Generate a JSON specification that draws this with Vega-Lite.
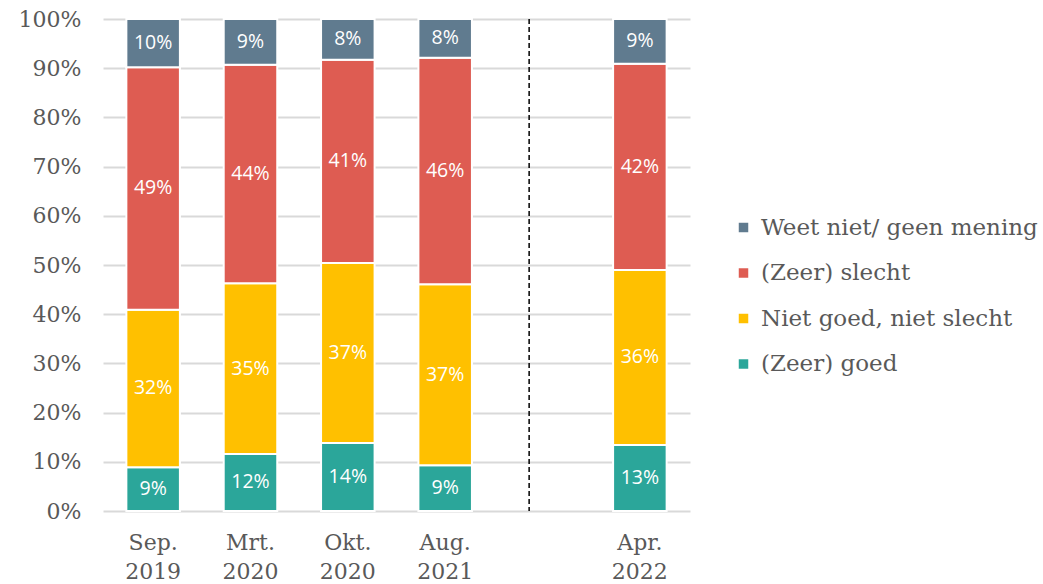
{
  "$schema": "https://vega.github.io/schema/vega-lite/v6.json",
  "width": 587,
  "height": 492,
  "autosize": {"type": "none"},
  "padding": {"left": 103, "top": 19, "right": 353, "bottom": 73},
  "background": "white",
  "config": {"view": {"stroke": null}},
  "datasets": {
    "main": [
      {"periode": "Sep. 2019", "antwoord": "(Zeer) goed", "rang": 1, "aandeel": 0.089},
      {"periode": "Sep. 2019", "antwoord": "Niet goed, niet slecht", "rang": 2, "aandeel": 0.320},
      {"periode": "Sep. 2019", "antwoord": "(Zeer) slecht", "rang": 3, "aandeel": 0.493},
      {"periode": "Sep. 2019", "antwoord": "Weet niet/ geen mening", "rang": 4, "aandeel": 0.098},
      {"periode": "Mrt. 2020", "antwoord": "(Zeer) goed", "rang": 1, "aandeel": 0.116},
      {"periode": "Mrt. 2020", "antwoord": "Niet goed, niet slecht", "rang": 2, "aandeel": 0.347},
      {"periode": "Mrt. 2020", "antwoord": "(Zeer) slecht", "rang": 3, "aandeel": 0.444},
      {"periode": "Mrt. 2020", "antwoord": "Weet niet/ geen mening", "rang": 4, "aandeel": 0.093},
      {"periode": "Okt. 2020", "antwoord": "(Zeer) goed", "rang": 1, "aandeel": 0.138},
      {"periode": "Okt. 2020", "antwoord": "Niet goed, niet slecht", "rang": 2, "aandeel": 0.366},
      {"periode": "Okt. 2020", "antwoord": "(Zeer) slecht", "rang": 3, "aandeel": 0.413},
      {"periode": "Okt. 2020", "antwoord": "Weet niet/ geen mening", "rang": 4, "aandeel": 0.083},
      {"periode": "Aug. 2021", "antwoord": "(Zeer) goed", "rang": 1, "aandeel": 0.093},
      {"periode": "Aug. 2021", "antwoord": "Niet goed, niet slecht", "rang": 2, "aandeel": 0.368},
      {"periode": "Aug. 2021", "antwoord": "(Zeer) slecht", "rang": 3, "aandeel": 0.460},
      {"periode": "Aug. 2021", "antwoord": "Weet niet/ geen mening", "rang": 4, "aandeel": 0.079},
      {"periode": "Apr. 2022", "antwoord": "(Zeer) goed", "rang": 1, "aandeel": 0.134},
      {"periode": "Apr. 2022", "antwoord": "Niet goed, niet slecht", "rang": 2, "aandeel": 0.356},
      {"periode": "Apr. 2022", "antwoord": "(Zeer) slecht", "rang": 3, "aandeel": 0.419},
      {"periode": "Apr. 2022", "antwoord": "Weet niet/ geen mening", "rang": 4, "aandeel": 0.091}
    ],
    "scheiding": [{"periode": "gap"}]
  },
  "layer": [
    {
      "data": {"name": "main"},
      "mark": {"type": "bar", "stroke": "white", "strokeWidth": 2},
      "encoding": {
        "x": {
          "field": "periode", "type": "nominal",
          "scale": {"domain": ["Sep. 2019", "Mrt. 2020", "Okt. 2020", "Aug. 2021", "gap", "Apr. 2022"], "paddingInner": 0.45, "paddingOuter": 0.24},
          "axis": {
            "title": null, "labelAngle": 0, "domain": false, "ticks": false, "grid": false,
            "labelExpr": "datum.value == 'gap' ? '' : split(datum.value, ' ')",
            "labelFont": "DejaVu Serif", "labelFontSize": 22, "labelColor": "#595959",
            "labelPadding": 21, "labelLineHeight": 29
          }
        },
        "y": {
          "field": "aandeel", "type": "quantitative", "stack": "zero",
          "scale": {"domain": [0, 1]},
          "axis": {
            "title": null, "values": [0, 0.1, 0.2, 0.3, 0.4, 0.5, 0.6, 0.7, 0.8, 0.9, 1],
            "format": ".0%", "domain": false, "ticks": false,
            "gridColor": "#d9d9d9", "gridWidth": 2,
            "labelFont": "DejaVu Serif", "labelFontSize": 22, "labelColor": "#595959",
            "labelPadding": 22
          }
        },
        "order": {"field": "rang", "type": "quantitative", "sort": "ascending"},
        "color": {
          "field": "antwoord", "type": "nominal",
          "scale": {
            "domain": ["Weet niet/ geen mening", "(Zeer) slecht", "Niet goed, niet slecht", "(Zeer) goed"],
            "range": ["#607B8F", "#DE5C52", "#FFC000", "#2BA69A"]
          },
          "legend": {
            "title": null, "orient": "none", "legendX": 629, "legendY": 197,
            "symbolType": "square", "symbolSize": 90, "symbolStrokeWidth": 0,
            "labelFont": "DejaVu Serif", "labelFontSize": 23, "labelColor": "#595959",
            "rowPadding": 21.5, "labelOffset": 6, "labelLimit": 400
          }
        }
      }
    },
    {
      "data": {"name": "main"},
      "mark": {"type": "text", "color": "white", "font": "Open Sans", "fontSize": 19.5, "baseline": "middle", "align": "center"},
      "encoding": {
        "x": {"field": "periode", "type": "nominal"},
        "y": {"field": "aandeel", "type": "quantitative", "stack": "zero", "bandPosition": 0.5},
        "order": {"field": "rang", "type": "quantitative", "sort": "ascending"},
        "text": {"field": "aandeel", "type": "quantitative", "format": ".0%"},
        "detail": {"field": "antwoord"}
      }
    },
    {
      "data": {"name": "scheiding"},
      "mark": {"type": "rule", "color": "#000000", "strokeWidth": 1.5, "strokeDash": [5, 3]},
      "encoding": {
        "x": {"field": "periode", "type": "nominal", "bandPosition": 0.25}
      }
    }
  ]
}
